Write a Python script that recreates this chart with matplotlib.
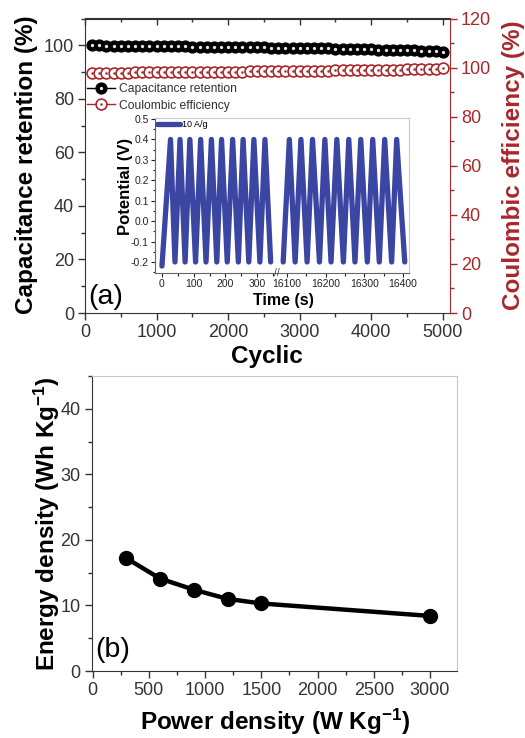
import matplotlib
matplotlib.use("Agg")
import matplotlib.pyplot as plt
from matplotlib.ticker import MultipleLocator
from matplotlib.lines import Line2D
from matplotlib.legend_handler import HandlerTuple

plt.rcParams['font.family'] = ['Liberation Sans', 'DejaVu Sans']
plt.rcParams['axes.unicode_minus'] = False
plt.rcParams['mathtext.default'] = 'regular'

# ---------------- data ----------------
cycles = [100, 200, 300, 400, 500, 600, 700, 800, 900, 1000,
          1100, 1200, 1300, 1400, 1500, 1600, 1700, 1800, 1900, 2000,
          2100, 2200, 2300, 2400, 2500, 2600, 2700, 2800, 2900, 3000,
          3100, 3200, 3300, 3400, 3500, 3600, 3700, 3800, 3900, 4000,
          4100, 4200, 4300, 4400, 4500, 4600, 4700, 4800, 4900, 5000]
cap_retention = [100.0, 100.0, 99.9, 99.9, 99.9, 99.8, 99.8, 99.8, 99.7, 99.7,
                 99.7, 99.6, 99.6, 99.6, 99.5, 99.5, 99.5, 99.4, 99.4, 99.4,
                 99.3, 99.3, 99.2, 99.2, 99.2, 99.1, 99.1, 99.0, 99.0, 98.9,
                 98.9, 98.9, 98.8, 98.8, 98.7, 98.7, 98.6, 98.6, 98.5, 98.5,
                 98.4, 98.4, 98.3, 98.3, 98.2, 98.1, 98.0, 97.9, 97.8, 97.5]
coul_eff = [97.8, 97.8, 97.9, 97.9, 97.9, 97.9, 98.0, 98.0, 98.0, 98.0,
            98.1, 98.1, 98.1, 98.2, 98.2, 98.2, 98.3, 98.3, 98.3, 98.4,
            98.4, 98.4, 98.5, 98.5, 98.5, 98.6, 98.6, 98.6, 98.7, 98.7,
            98.7, 98.8, 98.8, 98.8, 98.9, 98.9, 98.9, 99.0, 99.0, 99.0,
            99.1, 99.1, 99.2, 99.2, 99.3, 99.3, 99.4, 99.5, 99.6, 99.8]

# inset GCD curves (vertices of charge/discharge)
gcd_t_first = [0, 27, 41, 57, 73, 88, 106, 122, 139, 156, 173, 188, 206, 223,
               241, 256, 274, 290, 309, 325, 343]
gcd_v_first = [-0.22, 0.40, -0.20, 0.40, -0.20, 0.40, -0.20, 0.40, -0.20, 0.40,
               -0.20, 0.40, -0.20, 0.40, -0.20, 0.40, -0.20, 0.40, -0.20, 0.40, -0.20]
gcd_t_last = [16090, 16106, 16121, 16136, 16152, 16166, 16184, 16198, 16214, 16229,
              16246, 16260, 16276, 16291, 16308, 16322, 16339, 16353, 16371, 16384, 16405]
gcd_v_last = [-0.20, 0.40, -0.20, 0.40, -0.20, 0.40, -0.20, 0.40, -0.20, 0.40,
              -0.20, 0.40, -0.20, 0.40, -0.20, 0.40, -0.20, 0.40, -0.20, 0.40, -0.20]

power_density = [300, 600, 900, 1200, 1500, 3000]
energy_density = [17.2, 14.1, 12.4, 11.0, 10.3, 8.4]

# ---------------- style ----------------
RED = '#a8282c'
BLUE = '#3b46a2'
DARK = '#333333'
LIGHT = '#c8c8c8'
W, H = 525.0, 738.0

fig = plt.figure(figsize=(5.25, 7.38), dpi=100)


def fx(px):
    return px / W


def fy(py):
    return 1 - py / H


# ================= panel (a) =================
ax1 = fig.add_axes([fx(85), fy(313), (450 - 85) / W, (313 - 18.5) / H])
ax1.set_xlim(0, 5100)
ax1.set_ylim(0, 110)
ax2 = ax1.twinx()
ax2.set_ylim(0, 120)

ax1.plot(cycles, cap_retention, '-o', color='black', lw=1, ms=7.8,
         mfc='black', mec='black', zorder=3)
ax1.plot(cycles, cap_retention, 'o', color='#e6e6e6', ms=2.4, mec='none', zorder=4)
ax2.plot(cycles, coul_eff, '-o', color=RED, lw=1, ms=7.8, mfc='white', mec=RED,
         mew=1.2, zorder=3)
ax2.plot(cycles, coul_eff, 'o', color=RED, ms=1.8, mec='none', zorder=4)

ax1.xaxis.set_major_locator(MultipleLocator(1000))
ax1.xaxis.set_minor_locator(MultipleLocator(500))
ax1.yaxis.set_major_locator(MultipleLocator(20))
ax1.yaxis.set_minor_locator(MultipleLocator(10))
ax2.yaxis.set_major_locator(MultipleLocator(20))
ax2.yaxis.set_minor_locator(MultipleLocator(10))

for sp in ['left', 'bottom', 'top']:
    ax1.spines[sp].set_color(DARK)
ax2.spines['right'].set_color(RED)
ax2.spines['left'].set_visible(False)
ax2.spines['top'].set_visible(False)
ax2.spines['bottom'].set_visible(False)
ax1.spines['right'].set_visible(False)

ax1.tick_params(axis='both', which='major', length=5, width=1, labelsize=13,
                colors=DARK, pad=3, direction='out')
ax1.tick_params(axis='both', which='minor', length=2.8, width=1, colors=DARK, direction='out')
ax2.tick_params(axis='y', which='major', length=5, width=1, labelsize=13, colors=RED, pad=3)
ax2.tick_params(axis='y', which='minor', length=2.8, width=1, colors=RED)

# inward top ticks via secondary axis
secx = ax1.secondary_xaxis('top')
secx.xaxis.set_major_locator(MultipleLocator(1000))
secx.xaxis.set_minor_locator(MultipleLocator(500))
secx.tick_params(which='both', direction='in', labeltop=False, colors=DARK, width=1)
secx.tick_params(which='major', length=5)
secx.tick_params(which='minor', length=2.8)
secx.spines['top'].set_color(DARK)
ax1.tick_params(axis='x', which='both', top=False)

h_cap = (Line2D([0], [0], color='black', lw=1, marker='o', ms=7.8,
                mfc='black', mec='black'),
         Line2D([0], [0], ls='none', marker='o', ms=2.4, mfc='#e6e6e6', mec='none'))
h_ce = (Line2D([0], [0], color=RED, lw=1, marker='o', ms=7.8,
               mfc='white', mec=RED, mew=1.2),
        Line2D([0], [0], ls='none', marker='o', ms=1.8, mfc=RED, mec='none'))
leg = ax1.legend([h_cap, h_ce], ['Capacitance retention', 'Coulombic efficiency'],
                 handler_map={tuple: HandlerTuple(ndivide=1, pad=0)},
                 loc='upper left', bbox_to_anchor=(0.0, 0.79), frameon=False,
                 fontsize=8.7, handlelength=2.3, handletextpad=0.3,
                 labelspacing=0.4, borderaxespad=0.0, borderpad=0.2)
for txt in leg.get_texts():
    txt.set_color(DARK)

fig.text(fx(33), fy(165), 'Capacitance retention (%)', rotation=90,
         rotation_mode='anchor', ha='center', va='baseline', fontsize=17.5,
         fontweight='bold', color='black')
fig.text(fx(520), fy(165), 'Coulombic efficiency (%)', rotation=90,
         rotation_mode='anchor', ha='center', va='baseline', fontsize=17.5,
         fontweight='bold', color=RED)
fig.text(fx(267), fy(363), 'Cyclic', ha='center', va='baseline', fontsize=17.5,
         fontweight='bold', color='black')
fig.text(fx(88), fy(304), '(a)', ha='left', va='baseline', fontsize=20.5, color='black')

# ---------------- inset ----------------
axL = fig.add_axes([fx(155), fy(273), (277 - 155) / W, (273 - 118) / H])
axR = fig.add_axes([fx(277), fy(273), (409 - 277) / W, (273 - 118) / H])
for ax in (axL, axR):
    ax.set_ylim(-0.254, 0.505)
    ax.set_facecolor('white')
axL.set_xlim(-22, 363)
axR.set_xlim(16074, 16416)

lineL, = axL.plot(gcd_t_first, gcd_v_first, color=BLUE, lw=3.8,
                  solid_joinstyle='round', solid_capstyle='round')
axR.plot(gcd_t_last, gcd_v_last, color=BLUE, lw=3.8,
         solid_joinstyle='round', solid_capstyle='round')

axL.xaxis.set_major_locator(MultipleLocator(100))
axL.xaxis.set_minor_locator(MultipleLocator(50))
axR.xaxis.set_major_locator(MultipleLocator(100))
axR.xaxis.set_minor_locator(MultipleLocator(50))
axL.yaxis.set_minor_locator(MultipleLocator(0.05))
axL.set_yticks([-0.2, -0.1, 0.0, 0.1, 0.2, 0.3, 0.4, 0.5])
axL.set_yticklabels(['-0.2', '-0.1', '0.0', '0.1', '0.2', '0.3', '0.4', '0.5'])
axR.set_yticks([])
axR.tick_params(axis='y', which='both', left=False, labelleft=False)

axL.spines['right'].set_visible(False)
axR.spines['left'].set_visible(False)
for ax in (axL, axR):
    ax.spines['top'].set_color(LIGHT)
    ax.spines['bottom'].set_color('#666666')
    ax.tick_params(axis='x', which='major', length=3, width=0.8, labelsize=7.5,
                   colors='#222222', pad=1.5)
    ax.tick_params(axis='x', which='minor', length=1.8, width=0.8, colors='#222222')
axR.spines['right'].set_color(LIGHT)
axL.spines['left'].set_color('#666666')
axL.tick_params(axis='y', which='major', length=3, width=0.8, labelsize=7.5,
                colors='#222222', pad=1.5)
axL.tick_params(axis='y', which='minor', length=1.8, width=0.8, colors='#222222')

axL.legend([lineL], ['10 A/g'], loc='upper left', frameon=False, fontsize=6.5,
           handlelength=2.6, handletextpad=0.2, borderaxespad=0.1, borderpad=0.1)

fig.text(fx(277), fy(273), '//', ha='center', va='center', fontsize=7.5,
         color='#444444')
fig.text(fx(130), fy(186), 'Potential (V)', rotation=90, rotation_mode='anchor',
         ha='center', va='baseline', fontsize=12, fontweight='bold', color='black')
fig.text(fx(283), fy(305), 'Time (s)', ha='center', va='baseline', fontsize=11.5,
         fontweight='bold', color='black')

# ================= panel (b) =================
ax3 = fig.add_axes([fx(91.7), fy(671), (457 - 91.7) / W, (671 - 376) / H])
ax3.set_xlim(-8, 3240)
ax3.set_ylim(0, 45)
ax3.plot(power_density, energy_density, '-o', color='black', lw=3.2, ms=10)
ax3.xaxis.set_major_locator(MultipleLocator(500))
ax3.xaxis.set_minor_locator(MultipleLocator(250))
ax3.yaxis.set_major_locator(MultipleLocator(10))
ax3.yaxis.set_minor_locator(MultipleLocator(5))
ax3.spines['top'].set_color(LIGHT)
ax3.spines['right'].set_color(LIGHT)
ax3.spines['left'].set_color(DARK)
ax3.spines['bottom'].set_color(DARK)
ax3.tick_params(axis='both', which='major', length=5, width=1, labelsize=13,
                colors=DARK, pad=3)
ax3.tick_params(axis='both', which='minor', length=2.8, width=1, colors=DARK)

fig.text(fx(55), fy(523.5), 'Energy density (Wh Kg$^{-1}$)', rotation=90,
         rotation_mode='anchor', ha='center', va='baseline', fontsize=17.5,
         fontweight='bold', color='black')
fig.text(fx(275), fy(730), 'Power density (W Kg$^{-1}$)', ha='center', va='baseline',
         fontsize=17.5, fontweight='bold', color='black')
fig.text(fx(95), fy(657), '(b)', ha='left', va='baseline', fontsize=20.5, color='black')

fig.savefig('out.png', dpi=100, facecolor='white')
